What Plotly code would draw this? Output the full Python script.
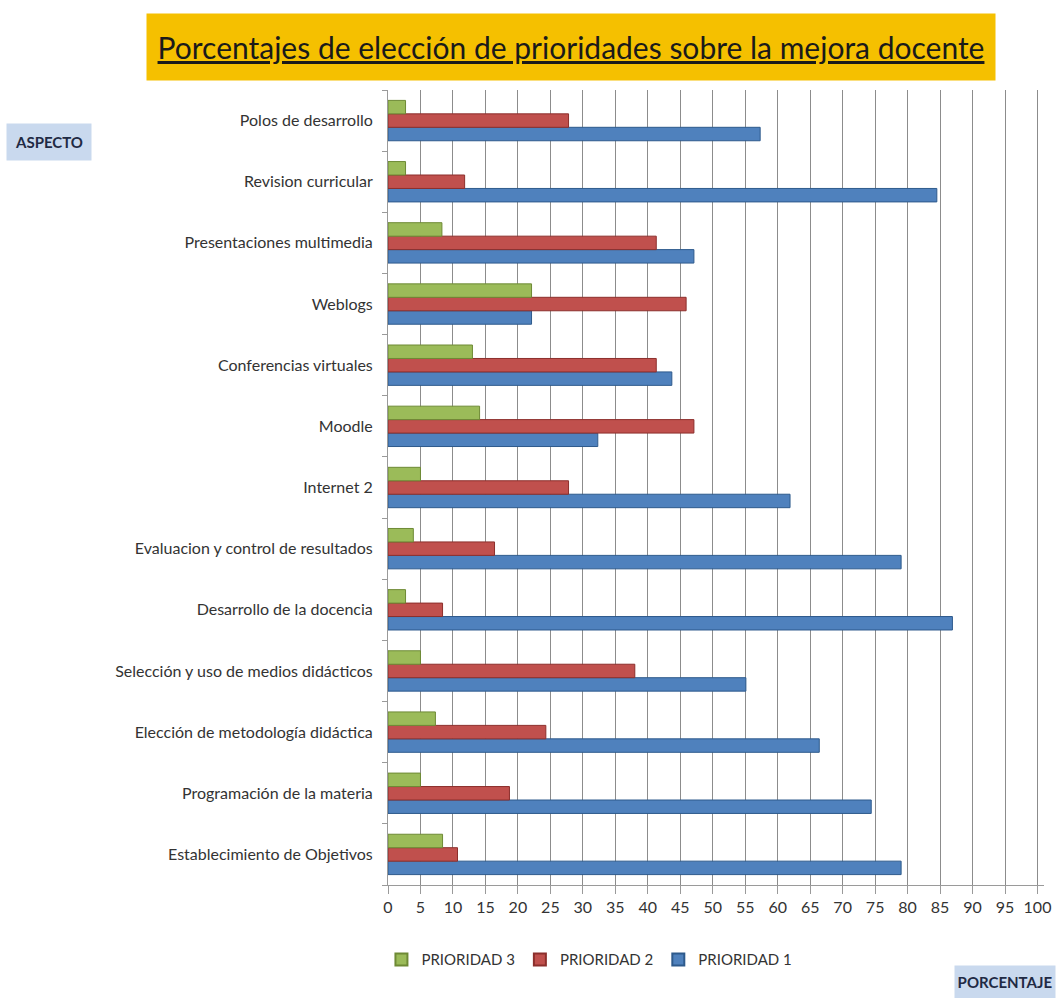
import plotly.graph_objects as go

# Categories listed bottom-to-top
categories = [
    "Establecimiento de Objetivos",
    "Programación de la materia",
    "Elección de metodología didáctica",
    "Selección y uso de medios didácticos",
    "Desarrollo de la docencia",
    "Evaluacion y control de resultados",
    "Internet 2",
    "Moodle",
    "Conferencias virtuales",
    "Weblogs",
    "Presentaciones multimedia",
    "Revision curricular",
    "Polos de desarrollo",
]
prioridad1 = [79.0, 74.4, 66.4, 55.1, 86.9, 79.0, 61.9, 32.3, 43.7, 22.1, 47.1, 84.5, 57.3]
prioridad2 = [10.7, 18.7, 24.3, 38.0, 8.4, 16.4, 27.8, 47.1, 41.3, 45.9, 41.3, 11.8, 27.8]
prioridad3 = [8.4, 5.0, 7.3, 5.0, 2.7, 3.9, 5.0, 14.1, 13.0, 22.1, 8.3, 2.7, 2.7]
x_ticks = list(range(0, 101, 5))

series = [
    ("PRIORIDAD 1", prioridad1, "#4F81BD", "#2E5A8C"),
    ("PRIORIDAD 2", prioridad2, "#C0504D", "#8C2F2C"),
    ("PRIORIDAD 3", prioridad3, "#9BBB59", "#6E8A35"),
]

fig = go.Figure()
for name, vals, col, edge in series:
    fig.add_trace(go.Bar(
        y=categories, x=vals, name=name, orientation="h",
        marker=dict(color=col, line=dict(color=edge, width=1)),
    ))

W, H = 1063, 998
L, R, T, B = 388, 13, 90, 113

fig.update_layout(
    width=W, height=H,
    margin=dict(l=L, r=R, t=T, b=B),
    paper_bgcolor="white", plot_bgcolor="white",
    barmode="group", bargap=0.34, bargroupgap=0.0,
    font=dict(family="Lato, 'Open Sans', sans-serif", size=16, color="#333333"),
    showlegend=True,
    legend=dict(orientation="h", traceorder="reversed", x=-0.01, xanchor="left",
                y=-0.094, yanchor="middle", font=dict(size=15, color="#333333"),
                itemwidth=30, itemsizing="constant", tracegroupgap=0),
    xaxis=dict(range=[0, 101], tickvals=x_ticks, ticktext=[str(v) for v in x_ticks],
               showgrid=True, gridcolor="#8C8C8C", gridwidth=1,
               showline=True, linecolor="#9A9A9A", ticks="outside", ticklen=8,
               tickcolor="#9A9A9A", ticklabelstandoff=0, zeroline=False,
               fixedrange=True),
    yaxis=dict(categoryorder="array", categoryarray=categories,
               showline=True, linecolor="#9A9A9A", ticks="outside", ticklen=5,
               tickcolor="#9A9A9A", tickson="boundaries", showgrid=False,
               ticklabelstandoff=11, fixedrange=True),
)

# Title box
fig.add_annotation(
    xref="paper", yref="paper",
    x=(573 - L) / (W - L - R), y=1 + (T - 47) / (H - T - B),
    text="<u>Porcentajes de elección de prioridades sobre la mejora docente</u>",
    showarrow=False, font=dict(size=30, color="#1A1A1A", family="Lato, sans-serif"),
    bgcolor="#F5C000", width=846, height=64, xanchor="center", yanchor="middle",
)
# ASPECTO label
fig.add_annotation(
    xref="paper", yref="paper",
    x=(46 - L) / (W - L - R), y=1 - (142 - T) / (H - T - B),
    text="<b>ASPECTO</b>", showarrow=False,
    font=dict(size=15, color="#1F2A44"), bgcolor="#C9D9EE",
    width=82, height=34, xanchor="center", yanchor="middle",
)
# PORCENTAJE label
fig.add_annotation(
    xref="paper", yref="paper",
    x=(1011 - L) / (W - L - R), y=1 - (982 - T) / (H - T - B),
    text="<b>PORCENTAJE</b>", showarrow=False,
    font=dict(size=15, color="#1F2A44"), bgcolor="#C9D9EE",
    width=98, height=30, xanchor="center", yanchor="middle",
)

fig.write_html("out.html", config={"displayModeBar": False},
               post_script="document.body.style.margin='0px';")
